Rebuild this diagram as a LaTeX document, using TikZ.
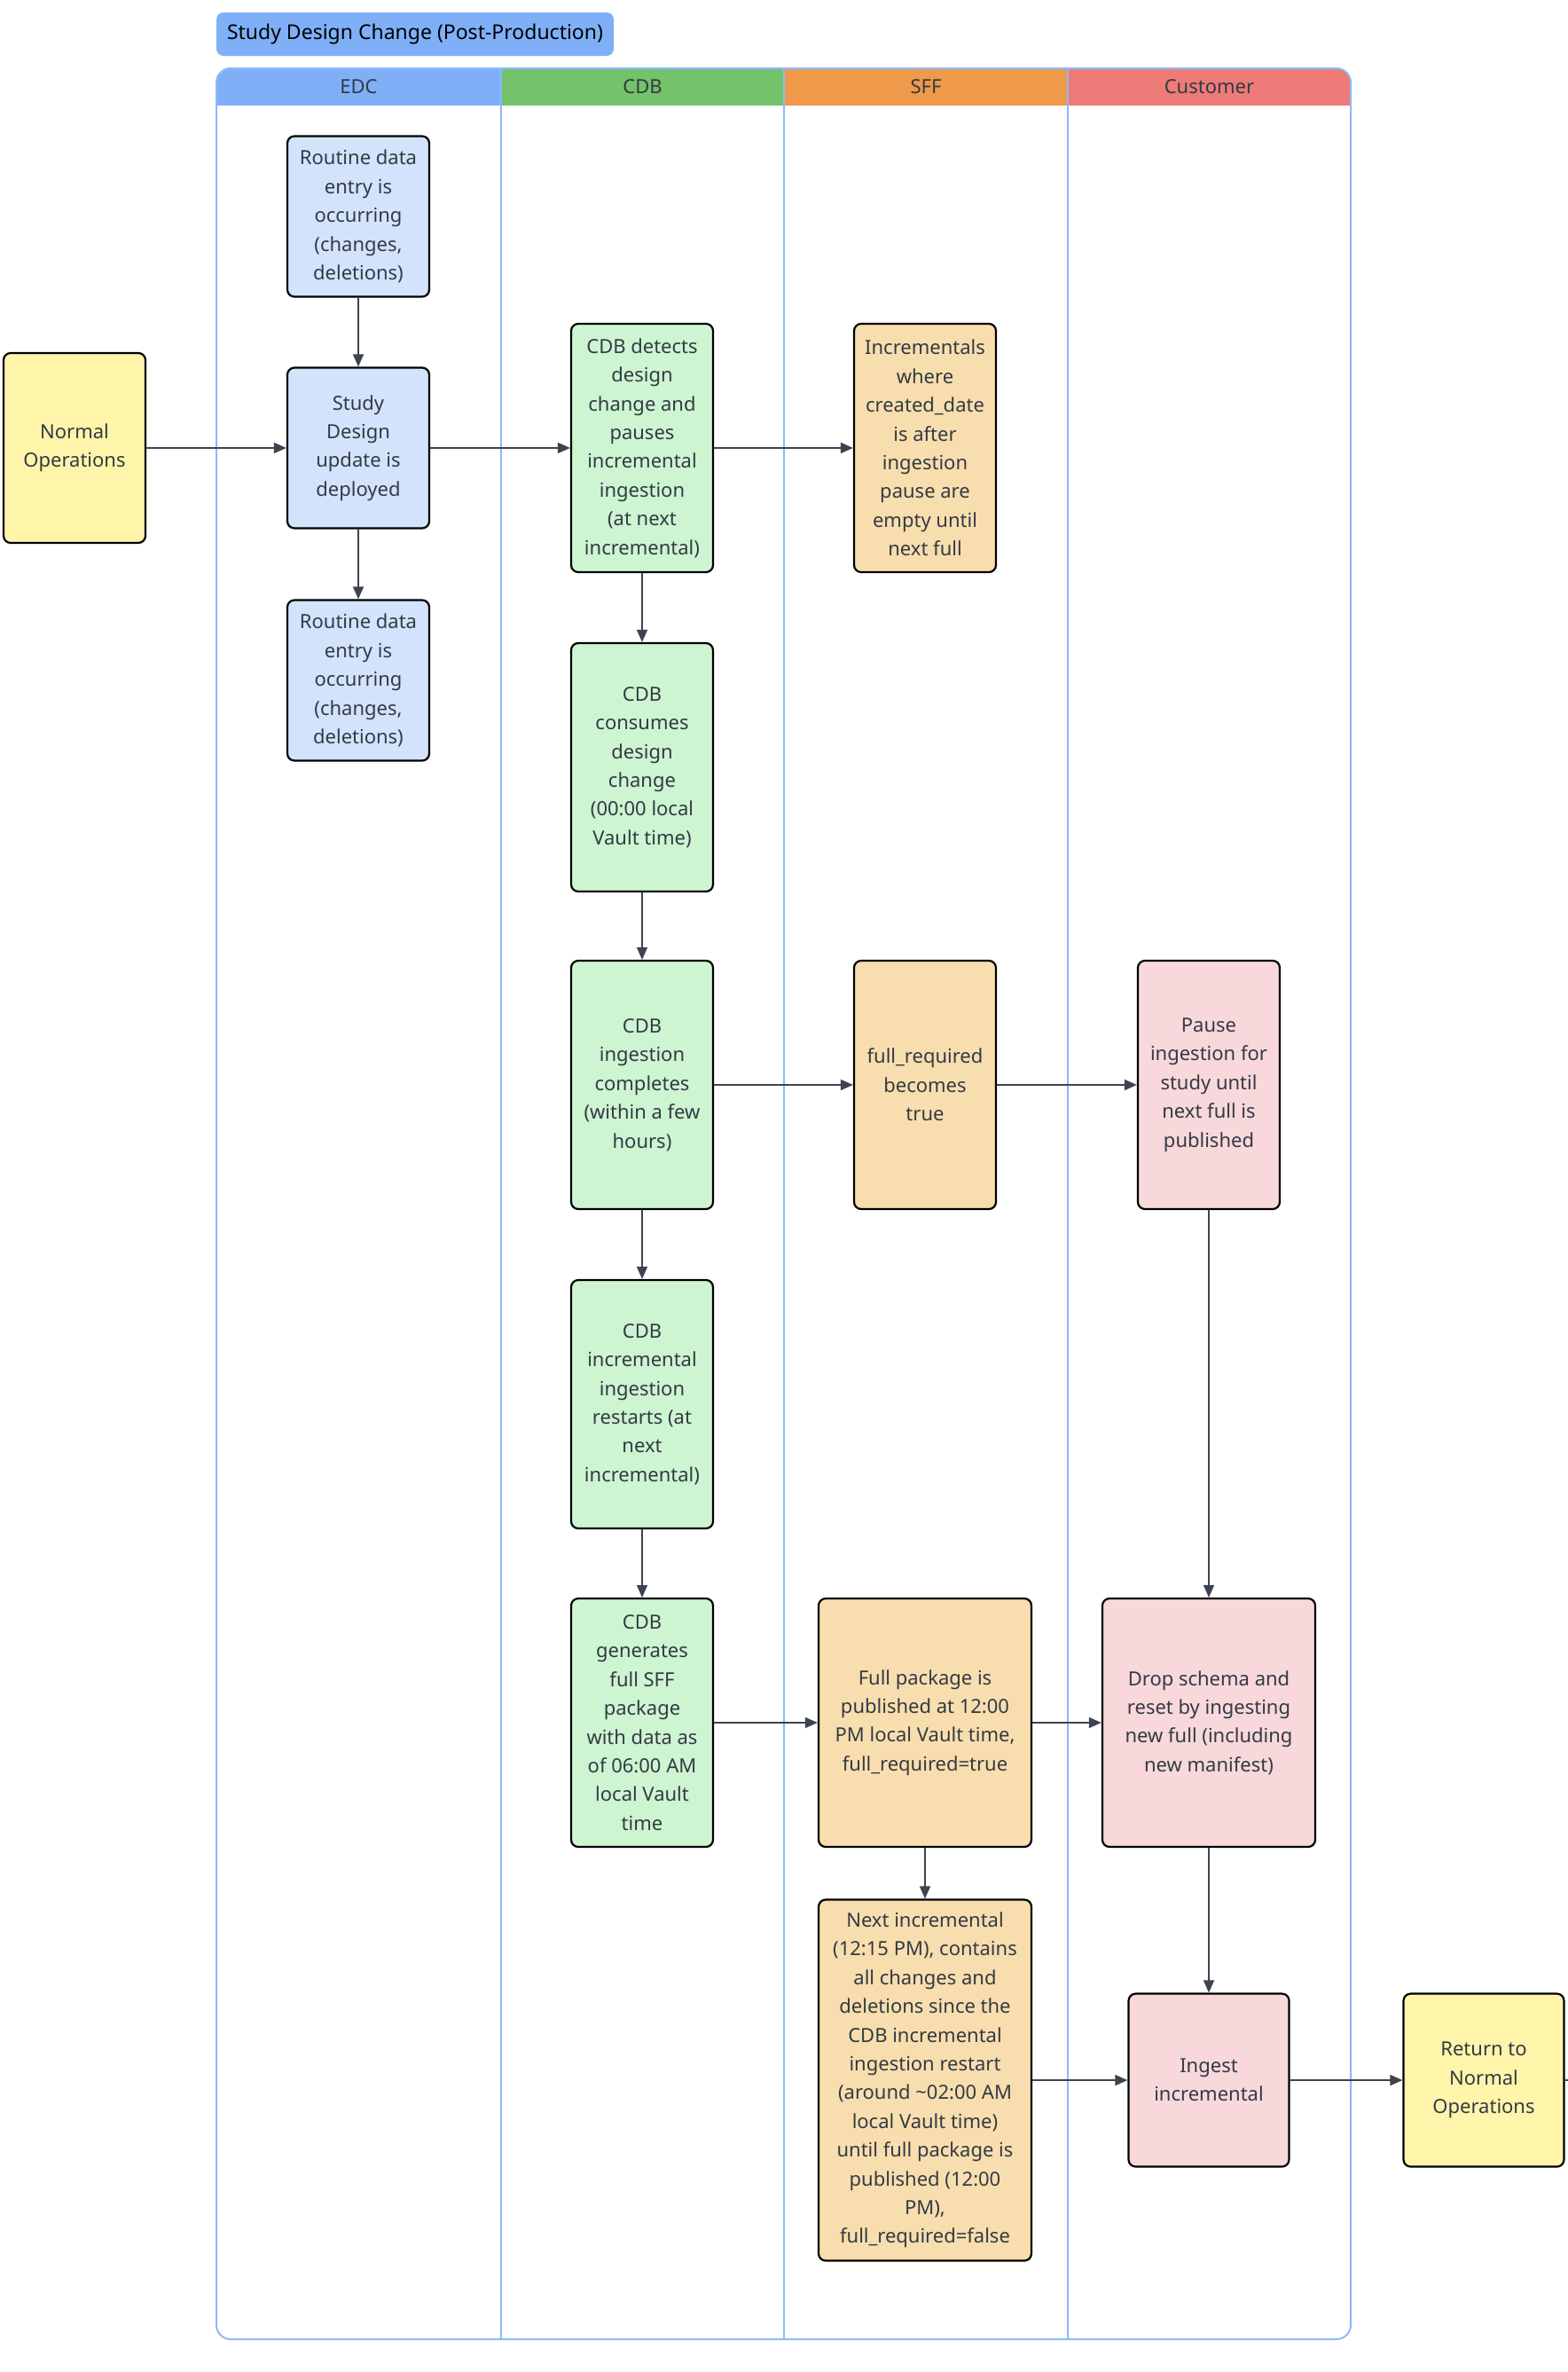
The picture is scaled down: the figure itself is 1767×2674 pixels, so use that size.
\documentclass[tikz,border=0pt]{standalone}
\usepackage{fontspec}
\setmainfont{Noto Sans}
\usetikzlibrary{arrows.meta}
\definecolor{edchead}{HTML}{7FB0F7}
\definecolor{cdbhead}{HTML}{74C26A}
\definecolor{sffhead}{HTML}{EE9A4A}
\definecolor{cushead}{HTML}{EE7B78}
\definecolor{edcfill}{HTML}{D3E3FC}
\definecolor{cdbfill}{HTML}{CDF5D1}
\definecolor{sfffill}{HTML}{F8DEAE}
\definecolor{cusfill}{HTML}{F8D8DB}
\definecolor{yelfill}{HTML}{FEF5AB}
\definecolor{lanec}{HTML}{8DB9F7}
\definecolor{textc}{HTML}{333A44}
\definecolor{arrc}{HTML}{3D4450}
\begin{document}
\begin{tikzpicture}[x=1pt,y=-1pt,
  box/.style={draw=black, line width=2.2pt, rounded corners=8pt, align=center,
    font=\fontsize{22}{32.4}\selectfont, text=textc, inner sep=0pt,
    minimum width=160pt, minimum height=280pt},
  arr/.style={draw=arrc, line width=1.5pt, -{Triangle[length=14pt,width=12pt]}},
  lanelabel/.style={font=\fontsize{22}{26}\selectfont, text=textc}
]
\useasboundingbox (0,0) rectangle (1767,2674);
\fill[white] (0,0) rectangle (1767,2674);
% title
\node[fill=edchead, rounded corners=8pt, minimum width=448pt, minimum height=49pt,
  font=\fontsize{23}{27}\selectfont, text=black, inner sep=0pt] (title) at (468,38.5)
  {Study Design Change (Post-Production)};
% pool
\begin{scope}
\clip[rounded corners=16pt] (244,77) rectangle (1523,2637);
\fill[edchead] (244,77) rectangle (565,119);
\fill[cdbhead] (565,77) rectangle (884,119);
\fill[sffhead] (884,77) rectangle (1204,119);
\fill[cushead] (1204,77) rectangle (1523,119);
\end{scope}
\draw[lanec, line width=2pt, rounded corners=16pt] (244,77) rectangle (1523,2637);
\foreach \xx in {565,884,1204} \draw[lanec, line width=2pt] (\xx,77) -- (\xx,2637);
\node[lanelabel] (hedc) at (404.5,98) {EDC};
\node[lanelabel] (hcdb) at (724.5,98) {CDB};
\node[lanelabel] (hsff) at (1044,98) {SFF};
\node[lanelabel] (hcus) at (1363.5,98) {Customer};
% nodes
\node[box, fill=yelfill, minimum height=214pt] (norm) at (84,505) {Normal\\Operations};
\node[box, fill=edcfill, minimum height=181pt] (rtop) at (404,244) {Routine data\\entry is\\occurring\\(changes,\\deletions)};
\node[box, fill=edcfill, minimum height=181pt] (sd) at (404,505) {Study\\Design\\update is\\deployed};
\node[box, fill=edcfill, minimum height=181pt] (rbot) at (404,767) {Routine data\\entry is\\occurring\\(changes,\\deletions)};
\node[box, fill=cdbfill] (det) at (724,505) {CDB detects\\design\\change and\\pauses\\incremental\\ingestion\\(at next\\incremental)};
\node[box, fill=sfffill] (incr) at (1043,505) {Incrementals\\where\\created\_date\\is after\\ingestion\\pause are\\empty until\\next full};
\node[box, fill=cdbfill] (cons) at (724,865) {CDB\\consumes\\design\\change\\(00:00 local\\Vault time)};
\node[box, fill=cdbfill] (comp) at (724,1223) {CDB\\ingestion\\completes\\(within a few\\hours)};
\node[box, fill=sfffill] (freq) at (1043,1223) {full\_required\\becomes\\true};
\node[box, fill=cusfill] (pause) at (1363,1223) {Pause\\ingestion for\\study until\\next full is\\published};
\node[box, fill=cdbfill] (rest) at (724,1583) {CDB\\incremental\\ingestion\\restarts (at\\next\\incremental)};
\node[box, fill=cdbfill] (gen) at (724,1942) {CDB\\generates\\full SFF\\package\\with data as\\of 06:00 AM\\local Vault\\time};
\node[box, fill=sfffill, minimum width=240pt] (fpkg) at (1043,1942) {Full package is\\published at 12:00\\PM local Vault time,\\full\_required=true};
\node[box, fill=cusfill, minimum width=240pt] (drop) at (1363,1942) {Drop schema and\\reset by ingesting\\new full (including\\new manifest)};
\node[box, fill=sfffill, minimum width=240pt, minimum height=407pt] (next) at (1043,2345) {Next incremental\\(12:15 PM), contains\\all changes and\\deletions since the\\CDB incremental\\ingestion restart\\(around \textasciitilde02:00 AM\\local Vault time)\\until full package is\\published (12:00\\PM),\\full\_required=false};
\node[box, fill=cusfill, minimum width=181pt, minimum height=195pt] (ing) at (1363,2345) {Ingest\\incremental};
\node[box, fill=yelfill, minimum width=181pt, minimum height=195pt] (ret) at (1673,2345) {Return to\\Normal\\Operations};
\coordinate (offr) at (1780,2345);
% connectors
\draw[arr] (norm) -- (sd);
\draw[arr] (rtop) -- (sd);
\draw[arr] (sd) -- (rbot);
\draw[arr] (sd) -- (det);
\draw[arr] (det) -- (incr);
\draw[arr] (det) -- (cons);
\draw[arr] (cons) -- (comp);
\draw[arr] (comp) -- (freq);
\draw[arr] (freq) -- (pause);
\draw[arr] (comp) -- (rest);
\draw[arr] (rest) -- (gen);
\draw[arr] (gen) -- (fpkg);
\draw[arr] (fpkg) -- (drop);
\draw[arr] (fpkg) -- (next);
\draw[arr] (pause) -- (drop);
\draw[arr] (drop) -- (ing);
\draw[arr] (next) -- (ing);
\draw[arr] (ing) -- (ret);
\draw[draw=arrc, line width=1.5pt] (ret) -- (offr);
\end{tikzpicture}
\end{document}
